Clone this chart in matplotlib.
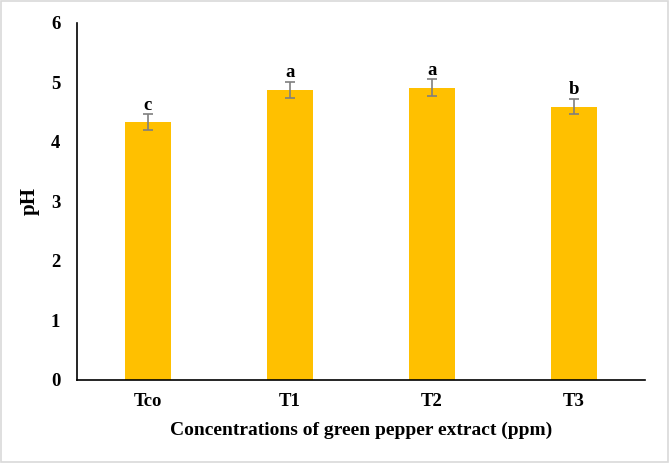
import numpy as np
import matplotlib.pyplot as plt
from matplotlib.patches import Rectangle

categories = ["Tco", "T1", "T2", "T3"]
ph_values = [4.33, 4.87, 4.91, 4.59]
ph_errors = [0.13, 0.14, 0.14, 0.13]
letters = ["c", "a", "a", "b"]

plt.rcParams['font.family'] = ['Liberation Serif', 'DejaVu Serif']
plt.rcParams['font.weight'] = 'bold'

fig = plt.figure(figsize=(6.69, 4.63), dpi=100)
ax = fig.add_axes([77 / 669, 1 - 380 / 463, (645 - 77) / 669, (380 - 22.7) / 463])

x = np.arange(len(categories))
ax.bar(x, ph_values, width=0.32, color='#FFC000', zorder=2)
ax.errorbar(x, ph_values, yerr=ph_errors, fmt='none', ecolor='#7f7f7f',
            elinewidth=1.2, capsize=3.5, capthick=1.2, zorder=3)
for xi, v, e, s in zip(x, ph_values, ph_errors, letters):
    ax.text(xi, v + e + 0.01, s, ha='center', va='bottom', fontsize=13.5, fontweight='bold')

ax.set_xlim(-0.5, 3.5)
ax.set_ylim(0, 6)
ax.set_xticks(x)
ax.set_xticklabels(categories, fontsize=13.5, fontweight='bold')
ax.set_yticks(range(7))
ax.set_yticklabels([str(i) for i in range(7)], fontsize=13.5, fontweight='bold')
ax.tick_params(length=0, pad=12)
ax.tick_params(axis='x', pad=9)
for side in ['top', 'right']:
    ax.spines[side].set_visible(False)
for side in ['left', 'bottom']:
    ax.spines[side].set_linewidth(1.2)
ax.set_xlabel("Concentrations of green pepper extract (ppm)", fontsize=14, fontweight='bold', labelpad=9)
ax.set_ylabel("pH", fontsize=15, fontweight='bold', labelpad=8)

fig.patches.append(Rectangle((0.002, 0.002), 0.996, 0.996, transform=fig.transFigure,
                             fill=False, edgecolor='#d9d9d9', linewidth=1.2))

fig.savefig("out.png", dpi=100)
